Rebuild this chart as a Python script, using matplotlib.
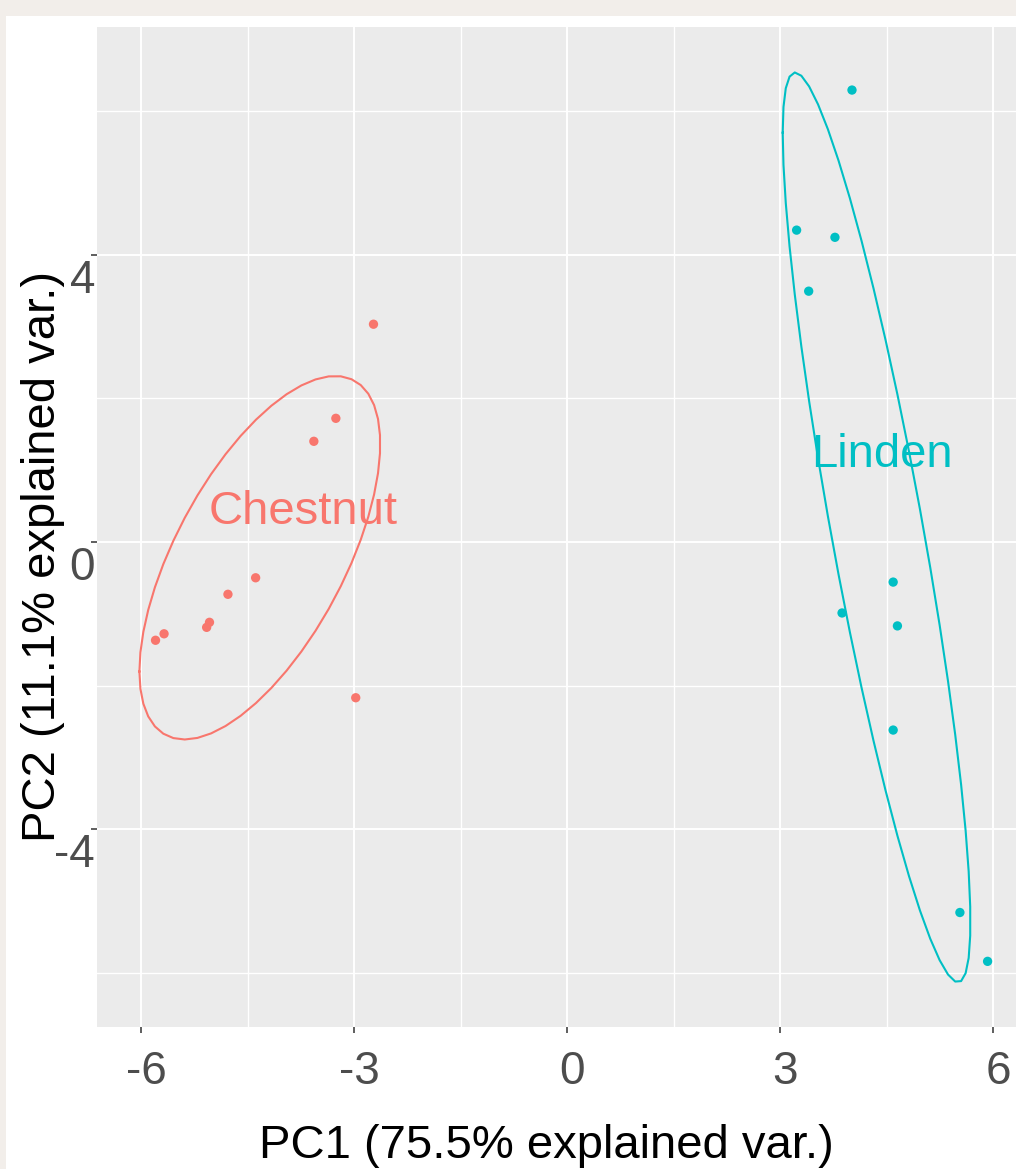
import matplotlib
matplotlib.use("Agg")
import matplotlib.pyplot as plt
import matplotlib.transforms as mtransforms
from matplotlib.patches import Rectangle
import numpy as np

plt.rcParams['font.family'] = ['Liberation Sans', 'DejaVu Sans']
plt.rcParams['axes.unicode_minus'] = False

# data
groups = ["Chestnut", "Linden"]
colors = ["#F8766D", "#00BFC4"]

chestnut_pc1 = [-2.73, -3.26, -3.57, -4.39, -4.78, -5.04, -5.08, -5.68, -5.80, -2.98]
chestnut_pc2 = [3.03, 1.72, 1.40, -0.50, -0.73, -1.12, -1.19, -1.28, -1.37, -2.17]
linden_pc1 = [4.01, 3.23, 3.77, 3.40, 4.59, 3.87, 4.65, 4.59, 5.53, 5.92]
linden_pc2 = [6.29, 4.34, 4.24, 3.49, -0.56, -0.99, -1.17, -2.62, -5.16, -5.84]

label_x = [-3.72, 4.43]
label_y = [0.25, 1.04]

x_ticks = [-6, -3, 0, 3, 6]
y_ticks = [-4, 0, 4]
x_label = "PC1 (75.5% explained var.)"
y_label = "PC2 (11.1% explained var.)"


def ellipse(x, y, prob=0.68, n=50):
    # normal-probability ellipse like ggbiplot
    pts = np.column_stack([x, y])
    mu = pts.mean(axis=0)
    sigma = np.cov(pts, rowvar=False)
    r = np.sqrt(-2 * np.log(1 - prob))
    t = np.linspace(-np.pi, np.pi, n)
    circle = np.column_stack([np.cos(t), np.sin(t)])
    return circle @ np.linalg.cholesky(sigma).T * r + mu


W, H = 1016, 1169
fig = plt.figure(figsize=(W / 100, H / 100), dpi=100, facecolor="#F2EEEA")
fig.add_artist(Rectangle((6 / W, 0), 1, 1 - 16 / H, transform=fig.transFigure,
                         facecolor="white", edgecolor="none", zorder=-1))

ax = fig.add_axes([97 / W, (H - 1027) / H, 933 / W, 1000 / H])
ax.set_facecolor("#EBEBEB")

data = [(chestnut_pc1, chestnut_pc2), (linden_pc1, linden_pc2)]
for (xs, ys), g, c, lx, ly in zip(data, groups, colors, label_x, label_y):
    e = ellipse(xs, ys)
    ax.plot(e[:, 0], e[:, 1], color=c, lw=1.5, zorder=2)
    ax.scatter(xs, ys, s=45, color=c, edgecolors="none", zorder=3)
    ax.text(lx, ly, g, color=c, fontsize=34, ha="center", va="baseline", zorder=4)

ax.margins(0.05)

ax.set_xticks(x_ticks)
ax.set_yticks(y_ticks)
ax.set_xticks(np.array(x_ticks[:-1]) + 1.5, minor=True)
ax.set_yticks([-6, -2, 2, 6], minor=True)
ax.grid(which="major", color="white", lw=1.4)
ax.grid(which="minor", color="white", lw=1.0)
ax.set_axisbelow(True)
for s in ax.spines.values():
    s.set_visible(False)

ax.tick_params(which="major", length=4.3, width=1.1, color="#333333",
               labelcolor="#4D4D4D", labelsize=33)
ax.tick_params(which="minor", length=0)
ax.tick_params(axis="x", pad=12)
ax.tick_params(axis="y", pad=-3)

for lab in ax.get_yticklabels():
    lab.set_va("top")
    lab.set_transform(lab.get_transform() +
                      mtransforms.ScaledTranslation(0, -0.04, fig.dpi_scale_trans))
for lab in ax.get_xticklabels():
    lab.set_transform(lab.get_transform() +
                      mtransforms.ScaledTranslation(0.05, 0, fig.dpi_scale_trans))

fig.text(43 / W, 1 - 556 / H, y_label, rotation=90, ha="center", va="center", fontsize=34)
fig.text(546.5 / W, (H - 1158) / H, x_label, ha="center", va="baseline", fontsize=34)

fig.savefig("out.png", dpi=100, facecolor=fig.get_facecolor())
